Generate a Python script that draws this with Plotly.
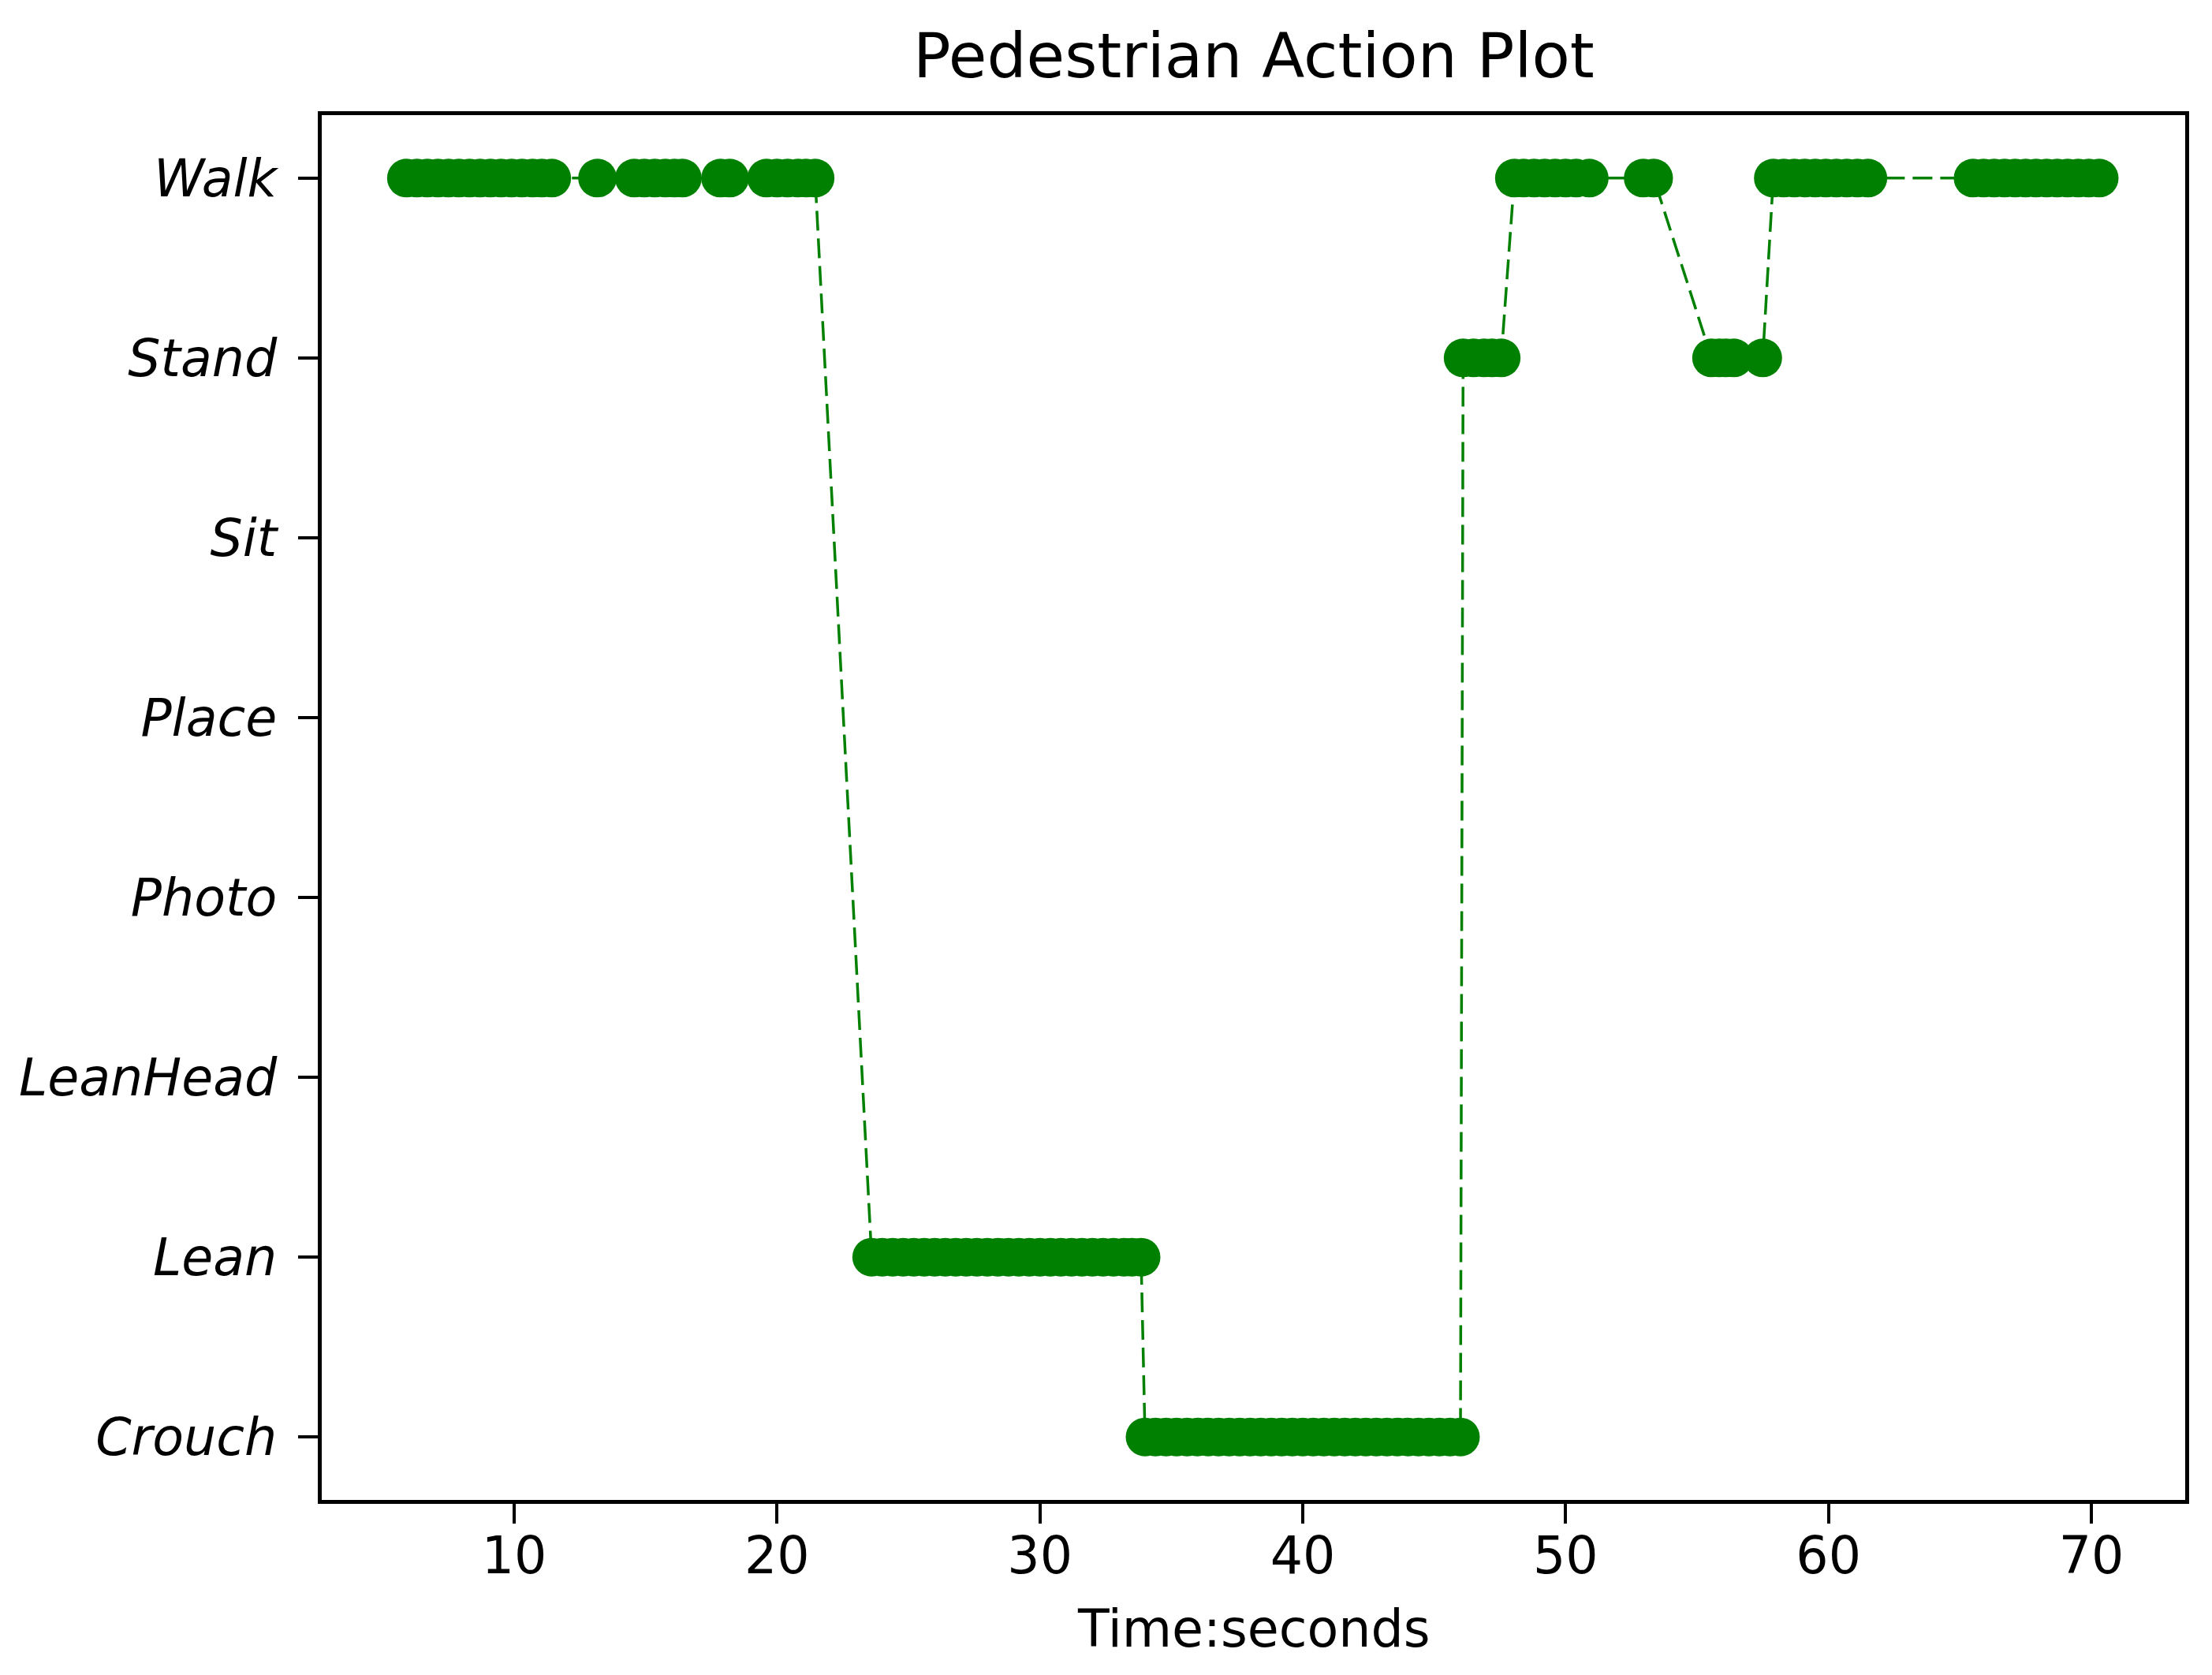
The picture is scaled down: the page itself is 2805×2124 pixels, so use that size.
import plotly.graph_objects as go

# Action categories (bottom to top)
actions = ["Crouch", "Lean", "LeanHead", "Photo", "Place", "Sit", "Stand", "Walk"]

# Time stamps (seconds) for each run of the same action, in time order
walk_1 = [5.9, 6.3, 6.7, 7.1, 7.5, 7.9, 8.3, 8.7, 9.1, 9.5, 9.9, 10.3, 10.7, 11.05, 11.43,
          13.17,
          14.57, 14.95, 15.35, 15.75, 16.1, 16.4,
          17.85, 18.2,
          19.6, 20.0, 20.4, 20.8, 21.1, 21.45]
lean_1 = [23.6, 24.0, 24.4, 24.8, 25.2, 25.6, 26.0, 26.4, 26.8, 27.2, 27.6, 28.0, 28.4,
          28.8, 29.2, 29.6, 30.0, 30.4, 30.8, 31.2, 31.6, 32.0, 32.4, 32.8, 33.2, 33.5, 33.85]
crouch_1 = [34.0, 34.4, 34.8, 35.2, 35.6, 36.0, 36.4, 36.8, 37.2, 37.6, 38.0, 38.4, 38.8,
            39.2, 39.6, 40.0, 40.4, 40.8, 41.2, 41.6, 42.0, 42.4, 42.8, 43.2, 43.6, 44.0,
            44.4, 44.8, 45.2, 45.6, 46.0]
stand_1 = [46.1, 46.5, 46.9, 47.2, 47.55]
walk_2 = [48.05, 48.4, 48.8, 49.2, 49.6, 50.0, 50.4, 50.9, 52.95, 53.35]
stand_2 = [55.55, 55.85, 56.1, 56.4, 57.5]
walk_3 = [57.9, 58.3, 58.7, 59.1, 59.5, 59.9, 60.3, 60.7, 61.1, 61.5,
          65.5, 65.9, 66.3, 66.7, 67.1, 67.5, 67.9, 68.3, 68.7, 69.1, 69.5, 69.9, 70.3]

runs = [("Walk", walk_1), ("Lean", lean_1), ("Crouch", crouch_1), ("Stand", stand_1),
        ("Walk", walk_2), ("Stand", stand_2), ("Walk", walk_3)]

times = []
labels = []
for name, ts in runs:
    times.extend(ts)
    labels.extend([actions.index(name)] * len(ts))

x_ticks = [10, 20, 30, 40, 50, 60, 70]

GREEN = "#008000"
FONT = "DejaVu Sans"

fig = go.Figure()
fig.add_trace(go.Scatter(
    x=times, y=labels, mode="lines+markers",
    line=dict(color=GREEN, width=3.5, dash="25px,10px"),
    marker=dict(color=GREEN, size=49, line=dict(width=0)),
    showlegend=False, hoverinfo="x+y",
))

fig.update_layout(
    width=2789, height=2108,
    margin=dict(l=400, r=26, t=138, b=214),
    paper_bgcolor="white", plot_bgcolor="white",
    font=dict(family=FONT, size=65, color="black"),
    showlegend=False,
)
fig.update_xaxes(
    range=[2.68, 73.57], tickvals=x_ticks, ticktext=[str(v) for v in x_ticks],
    showgrid=False, zeroline=False,
    showline=True, linecolor="black", linewidth=4.5, mirror=True,
    ticks="outside", ticklen=25, tickwidth=4, tickcolor="black",
    ticklabelstandoff=-15,
    tickfont=dict(family=FONT, size=65, color="black"),
)
fig.update_yaxes(
    range=[-0.35, 7.35], tickvals=list(range(len(actions))), ticktext=actions,
    showgrid=False, zeroline=False,
    showline=True, linecolor="black", linewidth=4.5, mirror=True,
    ticks="outside", ticklen=25, tickwidth=4, tickcolor="black",
    ticklabelstandoff=14,
    tickfont=dict(family=FONT, size=65, color="black", style="italic"),
)
fig.add_annotation(
    text="Pedestrian Action Plot", xref="paper", yref="paper", x=0.5, y=1,
    xanchor="center", yanchor="bottom", yshift=27, showarrow=False,
    font=dict(family=FONT, size=79, color="black"),
)
fig.add_annotation(
    text="Time:seconds", xref="paper", yref="paper", x=0.5, y=0,
    xanchor="center", yanchor="middle", yshift=-163, showarrow=False,
    font=dict(family=FONT, size=65, color="black"),
)

fig.write_html("out.html")
